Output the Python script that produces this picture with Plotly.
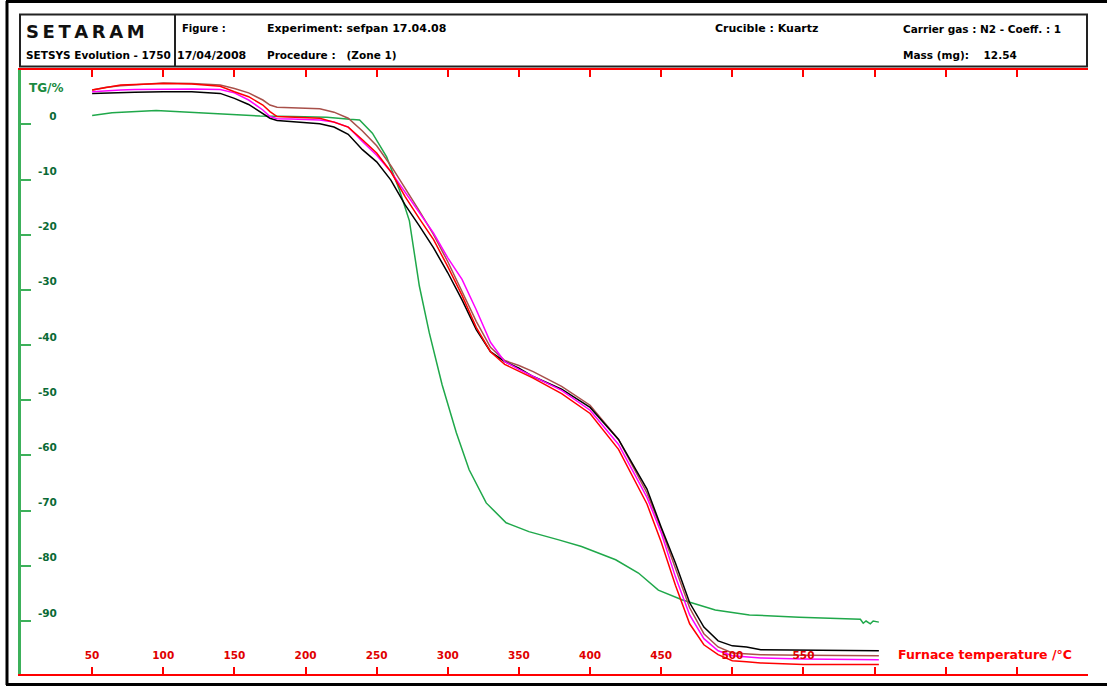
import plotly.graph_objects as go

# ---------------- data ----------------
temp_main = [50, 60, 70, 80, 100, 120, 140, 150, 160, 170, 175, 180, 190, 200, 210, 220,
             230, 240, 250, 260, 270, 280, 290, 300, 310, 320, 330, 340, 350, 360, 380,
             400, 420, 440, 450, 460, 470, 480, 490, 500, 510, 520, 550, 580, 603]

tg_black = [5.6, 5.7, 5.75, 5.8, 5.9, 5.9, 5.6, 4.7, 3.6, 2.0, 1.1, 0.7, 0.5, 0.4, 0.1, -0.5,
            -1.8, -4.6, -6.8, -10.1, -14.6, -18.4, -22.4, -26.9, -31.8, -37.2, -41.2, -43.0,
            -44.2, -45.7, -48.0, -51.3, -57.1, -66.1, -73.0, -79.5, -86.7, -91.1, -93.6,
            -94.5, -94.7, -95.2, -95.3, -95.4, -95.4]

tg_red = [6.2, 6.7, 7.1, 7.2, 7.4, 7.3, 6.9, 5.9, 5.0, 3.5, 2.3, 1.4, 1.3, 1.2, 1.1, 0.4,
          -0.5, -2.8, -5.2, -8.6, -13.1, -17.1, -20.9, -25.8, -31.0, -36.8, -41.2, -43.5,
          -44.8, -46.0, -48.8, -52.4, -58.9, -68.8, -75.7, -83.5, -90.5, -94.3, -96.1,
          -97.2, -97.4, -97.6, -97.9, -97.9, -97.9]

tg_brown = [6.2, 6.7, 7.0, 7.2, 7.5, 7.4, 7.1, 6.5, 5.7, 4.4, 3.5, 3.1, 3.0, 2.9, 2.8, 2.2,
            1.1, -1.2, -3.9, -7.5, -11.5, -15.7, -20.0, -24.9, -30.3, -35.7, -40.4, -42.8,
            -43.7, -44.8, -47.5, -50.9, -57.1, -66.8, -73.3, -80.5, -87.6, -92.3, -94.7,
            -95.8, -96.0, -96.1, -96.2, -96.3, -96.3]

tg_magenta = [5.9, 6.1, 6.2, 6.3, 6.4, 6.4, 6.3, 5.7, 4.4, 2.6, 1.4, 1.0, 0.95, 0.9, 0.8, 0.4,
              -0.5, -3.1, -5.6, -8.6, -12.2, -16.0, -19.7, -24.2, -28.1, -33.6, -39.5, -43.0,
              -44.4, -45.7, -48.2, -51.8, -58.0, -67.6, -74.0, -82.0, -88.9, -93.2, -95.4,
              -96.3, -96.5, -96.7, -96.9, -97.0, -97.0]

temp_green = [50, 64, 95, 119, 147, 168, 191, 215, 231, 238, 247, 257, 266, 273, 280, 287,
              296, 306, 315, 327, 341, 357, 378, 394, 418, 434, 448, 465, 488, 512, 547,
              582, 590, 592, 594, 597, 599, 603]
tg_green = [1.6, 2.1, 2.5, 2.2, 1.8, 1.5, 1.4, 1.3, 0.9, 0.8, -1.6, -5.9, -11.9, -17.5,
            -29.3, -37.8, -47.2, -55.9, -62.6, -68.6, -72.2, -73.8, -75.3, -76.5, -78.9,
            -81.3, -84.4, -86.2, -88.0, -88.9, -89.3, -89.6, -89.7, -90.4, -90.0, -90.5,
            -90.0, -90.2]

x_tick_vals = [50, 100, 150, 200, 250, 300, 350, 400, 450, 500, 550, 600, 650, 700]
x_tick_text = ["50", "100", "150", "200", "250", "300", "350", "400", "450", "500", "550", "", "", ""]
y_tick_vals = [0, -10, -20, -30, -40, -50, -60, -70, -80, -90]
y_tick_text = ["\u2007\u20080", "-10", "-20", "-30", "-40", "-50", "-60", "-70", "-80", "-90"]

# ---------------- layout geometry (pixels) ----------------
W, H = 1107, 686
PL, PR, PT, PB = 21, 1088, 70, 674


def px(x):
    return (x - PL) / (PR - PL)


def py(y):
    return (PB - y) / (PB - PT)


FONT = "DejaVu Sans"
NB = "\u00a0"

fig = go.Figure()
series = [
    (temp_green, tg_green, "#1fa84a"),
    (temp_main, tg_brown, "#a8504a"),
    (temp_main, tg_black, "#000000"),
    (temp_main, tg_magenta, "#ff00ff"),
    (temp_main, tg_red, "#ff0000"),
]
for xs, ys, col in series:
    fig.add_trace(go.Scatter(x=xs, y=ys, mode="lines",
                             line=dict(color=col, width=1.5),
                             showlegend=False, hoverinfo="skip"))

shapes = []
# outer black frame
shapes.append(dict(type="line", xref="paper", yref="paper", x0=px(7), x1=px(7),
                   y0=py(1), y1=py(685), line=dict(color="black", width=3)))
shapes.append(dict(type="line", xref="paper", yref="paper", x0=px(6), x1=px(1107),
                   y0=py(1.5), y1=py(1.5), line=dict(color="black", width=3)))
shapes.append(dict(type="line", xref="paper", yref="paper", x0=px(6), x1=px(1107),
                   y0=py(684.5), y1=py(684.5), line=dict(color="black", width=3)))
# header box
shapes.append(dict(type="rect", xref="paper", yref="paper", x0=px(20), x1=px(1087),
                   y0=py(14.5), y1=py(66.5), line=dict(color="#222222", width=2)))
shapes.append(dict(type="line", xref="paper", yref="paper", x0=px(175), x1=px(175),
                   y0=py(14.5), y1=py(66.5), line=dict(color="#222222", width=2)))

annotations = []


def txt(x, y, s, size=10, color="black", bold=True, anchor="left"):
    annotations.append(dict(xref="paper", yref="paper", x=px(x), y=py(y), text=s,
                            showarrow=False, xanchor=anchor, yanchor="middle",
                            font=dict(family=FONT, size=size, color=color,
                                      weight="bold" if bold else "normal")))


txt(24, 31, "\u2009".join("SETARAM"), size=18, color="#111111")
txt(24, 55, "SETSYS Evolution - 1750", size=10.5)
txt(175, 55, "17/04/2008", size=11)
txt(180, 29, "Figure :", size=10)
txt(265, 29, "Experiment: sefpan 17.04.08", size=11)
txt(265, 55, "Procedure :" + NB * 3 + "(Zone 1)", size=10.5)
txt(713, 29, "Crucible : Kuartz", size=11)
txt(901, 29, "Carrier gas : N2 - Coeff. : 1", size=10.5)
txt(901, 55, "Mass (mg):" + NB * 4 + "12.54", size=10.5)
txt(27, 88, "TG/%", size=12, color="#1a8a40")
txt(896, 654, "Furnace temperature /°C", size=12.5, color="#ff0000")

fig.update_layout(
    width=W, height=H,
    margin=dict(l=PL, r=W - PR, t=PT, b=H - PB, pad=0),
    paper_bgcolor="white", plot_bgcolor="white",
    shapes=shapes, annotations=annotations,
    xaxis=dict(range=[0, 750], showgrid=False, zeroline=False,
               showline=True, linecolor="#ff0000", linewidth=2, mirror="allticks",
               ticks="inside", ticklen=7, tickwidth=1.5, tickcolor="#ff0000",
               tickvals=x_tick_vals, ticktext=x_tick_text,
               ticklabelposition="inside", ticklabelstandoff=5,
               tickfont=dict(family=FONT, size=10.5, color="#e00000", weight="bold")),
    yaxis=dict(range=[-99.6, 9.84], showgrid=False, zeroline=False,
               showline=True, linecolor="#3cb05a", linewidth=2.5,
               ticks="inside", ticklen=10, tickwidth=1.5, tickcolor="#3cb05a",
               tickvals=y_tick_vals, ticktext=y_tick_text,
               ticklabelposition="inside top", ticklabelstandoff=15,
               tickfont=dict(family=FONT, size=10.5, color="#0a6a35", weight="bold")),
)

fig.write_html("out.html")
